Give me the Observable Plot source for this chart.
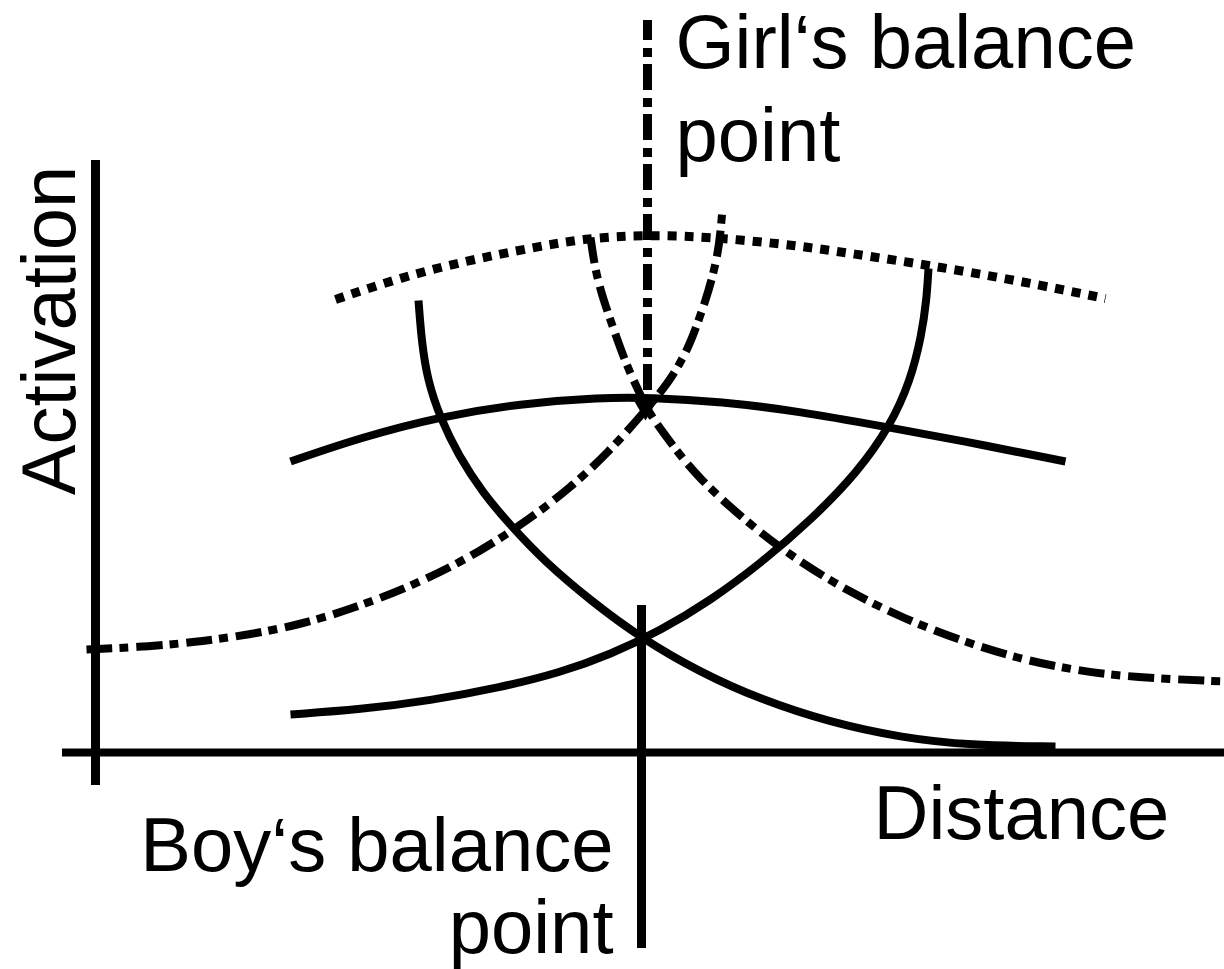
<!DOCTYPE html>
<html><head><meta charset="utf-8">
<script src="https://cdn.jsdelivr.net/npm/d3@7"></script>
<script src="https://cdn.jsdelivr.net/npm/@observablehq/plot@0.6"></script>
<style>body{margin:0;background:#fff}</style>
</head><body><div id="chart"></div>
<script>
// Distance (x) and activation (y) values
const humpSolidX = [290,360,440,520,600,650,720,800,883,960,1065];
const humpSolidY = [291,315,336,349,355,355,351,341,326,312,291];

const fallSolidX = [418,421,427,440,458,482,510,545,590,641,700,760,830,900,970,1055];
const fallSolidY = [452,412,372,334,297,260,227,190,152,114,80,53,30,15,7,6];

const riseSolidX = [290,360,430,500,560,610,660,710,760,810,857,890,910,921,926,928];
const riseSolidY = [38,43,52,65,80,98,122,152,189,232,280,327,372,417,452,484];

const riseDashX = [86,150,200,250,300,353,420,480,530,570,607,645,668,680,690,698,705,711,717,720,722];
const riseDashY = [103,106,111,118,128,144,170,201,234,265,299,342,370,390,410,432,452,472,497,520,544];

const fallDashX = [590,594,600,610,626,638,648,670,697,750,800,850,903,960,1017,1075,1133,1224];
const fallDashY = [515,487,462,432,387,362,340,310,275,227,190,160,134,112,94,82,75,71];

const humpDotX = [335,400,467,533,583,647,717,797,850,930,1017,1105];
const humpDotY = [453,475,492,505,514,518,515,507,499,487,472,454];

// reference lines
const girlBalance = [{x: 647, y1: 362, y2: 732}];
const boyBalance = [{x: 641, y1: -196, y2: 147}];
const yAxisLine = [{x: 95, y1: -33, y2: 592}];
const xAxisLine = [{y: 0, x1: 62, x2: 1224}];
const crossing = [{x: 645, y: 349}];

const girlLabel = [{text: "Girl\u2018s balance", x: 675, y: 685}, {text: "point", x: 675, y: 592}];
const boyLabel = [{text: "Boy\u2018s balance", x: 613, y: -118}, {text: "point", x: 613, y: -200}];
const xLabel = [{text: "Distance", x: 873, y: -86}];
const yLabel = [{text: "Activation", x: 74, y: 422}];

const pts = (xs, ys) => xs.map((x, i) => ({x, y: ys[i]}));

const lineOpts = {x: "x", y: "y", stroke: "black", strokeWidth: 8, strokeLinecap: "butt", strokeLinejoin: "round", curve: "basis"};
const dashDot = "26,7,9,8";
const font = {fontSize: 76, fontFamily: "Liberation Sans, Arial, sans-serif", fill: "black", lineAnchor: "bottom", x: "x", y: "y", text: "text"};

const chart = Plot.plot({
  width: 1224,
  height: 969,
  margin: 0,
  x: {domain: [0, 1224], axis: null},
  y: {domain: [-217, 752], axis: null},
  style: {background: "white"},
  marks: [
    Plot.ruleX(yAxisLine, {x: "x", y1: "y1", y2: "y2", stroke: "black", strokeWidth: 9}),
    Plot.ruleY(xAxisLine, {y: "y", x1: "x1", x2: "x2", stroke: "black", strokeWidth: 8}),
    Plot.ruleX(boyBalance, {x: "x", y1: "y1", y2: "y2", stroke: "black", strokeWidth: 9}),
    Plot.ruleX(girlBalance, {x: "x", y1: "y1", y2: "y2", stroke: "black", strokeWidth: 9, strokeDasharray: dashDot}),
    Plot.line(pts(humpSolidX, humpSolidY), lineOpts),
    Plot.line(pts(fallSolidX, fallSolidY), lineOpts),
    Plot.line(pts(riseSolidX, riseSolidY), lineOpts),
    Plot.line(pts(riseDashX, riseDashY), {...lineOpts, strokeDasharray: dashDot}),
    Plot.line(pts(fallDashX, fallDashY), {...lineOpts, strokeDasharray: dashDot}),
    Plot.line(pts(humpDotX, humpDotY), {...lineOpts, strokeWidth: 9, strokeDasharray: "9,8"}),
    Plot.dot(crossing, {x: "x", y: "y", symbol: "triangle", rotate: 180, r: 11, fill: "black", stroke: "none"}),
    Plot.text(girlLabel, {...font, textAnchor: "start"}),
    Plot.text(boyLabel, {...font, textAnchor: "end"}),
    Plot.text(xLabel, {...font, textAnchor: "start"}),
    Plot.text(yLabel, {...font, textAnchor: "middle", rotate: -90})
  ]
});
document.getElementById("chart").appendChild(chart);
</script>
</body></html>
